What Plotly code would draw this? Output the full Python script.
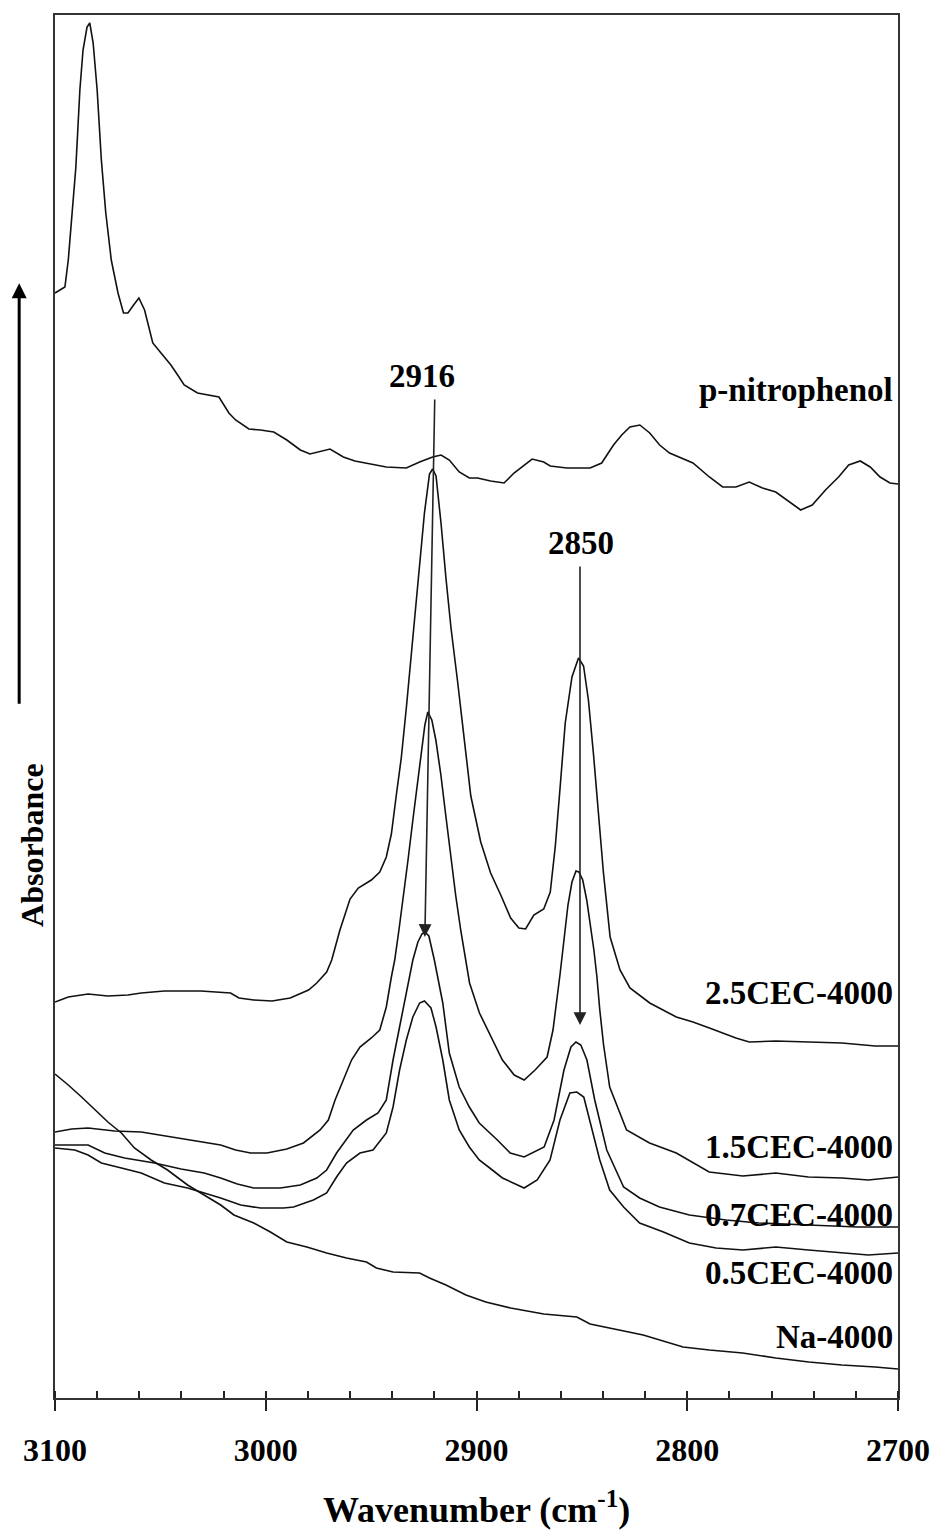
import plotly.graph_objects as go

# ---------------- data (wavenumber cm-1, absorbance a.u.) ----------------
pnp_w = [3100, 3095.3, 3093.7, 3092.1, 3090.1, 3088.2, 3086.7, 3084.8, 3083.5, 3081.9, 3080.0, 3078.0,
         3075.9, 3073.3, 3070.1, 3067.5, 3065.4, 3062.7, 3060.2, 3057.5, 3055.2, 3053.6, 3049.7, 3045.0,
         3041.8, 3038.7, 3032.4, 3022.2, 3017.5, 3014.3, 3008.0, 3002.5, 2996.2, 2990.0, 2983.6, 2979.0,
         2969.5, 2963.2, 2957.7, 2950.6, 2942.8, 2933.3, 2927.0, 2920.8, 2916.8, 2912.9, 2908.2, 2903.4,
         2899.5, 2893.3, 2886.9, 2882.2, 2873.6, 2868.1, 2865.0, 2857.1, 2846.1, 2840.6, 2835.0, 2831.1,
         2827.2, 2822.5, 2817.8, 2813.1, 2808.4, 2797.3, 2789.5, 2783.2, 2776.9, 2770.6, 2764.3, 2758.0,
         2751.7, 2746.2, 2740.7, 2734.4, 2728.2, 2723.4, 2717.9, 2713.2, 2708.5, 2703.8, 2700.0]
pnp_a = [1.105, 1.111, 1.138, 1.181, 1.231, 1.308, 1.348, 1.371, 1.375, 1.355, 1.308, 1.238,
         1.185, 1.138, 1.105, 1.085, 1.085, 1.093, 1.100, 1.088, 1.070, 1.055, 1.045, 1.033,
         1.023, 1.013, 1.005, 1.001, 0.985, 0.978, 0.969, 0.968, 0.966, 0.958, 0.948, 0.944,
         0.949, 0.941, 0.937, 0.934, 0.931, 0.930, 0.936, 0.941, 0.943, 0.938, 0.926, 0.920,
         0.920, 0.917, 0.915, 0.925, 0.939, 0.936, 0.932, 0.930, 0.930, 0.935, 0.953, 0.963,
         0.971, 0.973, 0.965, 0.953, 0.945, 0.935, 0.921, 0.911, 0.911, 0.916, 0.910, 0.906,
         0.896, 0.888, 0.893, 0.908, 0.921, 0.933, 0.937, 0.931, 0.921, 0.915, 0.914]

cec25_w = [3100, 3093.7, 3084.3, 3074.9, 3065.4, 3059.1, 3048.1, 3030.8, 3016.7, 3012.7, 3005.7, 2997.0,
           2988.4, 2979.7, 2975.8, 2971.1, 2968.7, 2964.8, 2960.0, 2956.1, 2949.9, 2945.9, 2942.8, 2940.4,
           2938.1, 2935.7, 2933.3, 2931.0, 2927.8, 2924.7, 2922.3, 2920.8, 2919.2, 2916.8, 2914.5, 2912.1,
           2909.0, 2905.8, 2902.7, 2898.0, 2893.3, 2888.5, 2883.8, 2879.9, 2876.7, 2872.8, 2868.1, 2865.0,
           2862.6, 2860.2, 2857.9, 2854.7, 2851.6, 2849.2, 2846.9, 2844.5, 2842.1, 2839.8, 2836.6, 2831.9,
           2827.2, 2817.8, 2805.2, 2797.3, 2789.5, 2776.9, 2770.6, 2758.0, 2742.3, 2726.6, 2710.8, 2700.0]
cec25_a = [0.396, 0.401, 0.404, 0.402, 0.403, 0.405, 0.407, 0.407, 0.405, 0.400, 0.398, 0.397,
           0.400, 0.408, 0.415, 0.426, 0.438, 0.468, 0.499, 0.510, 0.518, 0.526, 0.541, 0.564,
           0.602, 0.640, 0.690, 0.744, 0.813, 0.885, 0.924, 0.929, 0.922, 0.874, 0.820, 0.770,
           0.717, 0.656, 0.602, 0.556, 0.525, 0.503, 0.480, 0.470, 0.469, 0.483, 0.489, 0.506,
           0.552, 0.614, 0.675, 0.721, 0.740, 0.732, 0.698, 0.644, 0.583, 0.526, 0.461, 0.428,
           0.410, 0.395, 0.381, 0.376, 0.370, 0.360, 0.356, 0.357, 0.356, 0.355, 0.352, 0.352]

cec15_w = [3100, 3092.1, 3084.3, 3071.7, 3059.1, 3048.1, 3032.4, 3021.4, 3014.3, 3007.2, 2999.4, 2990.0,
           2982.1, 2974.2, 2970.3, 2967.1, 2963.2, 2959.3, 2955.3, 2949.9, 2945.9, 2942.8, 2940.4, 2938.8,
           2936.8, 2934.9, 2932.5, 2930.2, 2927.8, 2925.9, 2924.5, 2923.1, 2921.2, 2919.3, 2916.9, 2914.6,
           2912.3, 2909.9, 2907.5, 2905.2, 2903.3, 2898.6, 2893.9, 2887.7, 2882.1, 2877.4, 2872.2, 2866.5,
           2863.7, 2861.8, 2860.4, 2858.5, 2856.6, 2854.7, 2852.8, 2851.4, 2849.6, 2847.7, 2846.2, 2844.3,
           2842.9, 2841.5, 2839.7, 2836.8, 2828.8, 2817.9, 2805.2, 2789.6, 2773.6, 2758.0, 2742.5, 2726.5,
           2714.1, 2700.0]
cec15_a = [0.266, 0.269, 0.270, 0.267, 0.266, 0.262, 0.257, 0.253, 0.248, 0.245, 0.245, 0.249,
           0.255, 0.268, 0.278, 0.298, 0.318, 0.338, 0.351, 0.360, 0.368, 0.391, 0.421, 0.438,
           0.468, 0.498, 0.538, 0.578, 0.618, 0.653, 0.673, 0.686, 0.678, 0.658, 0.623, 0.583,
           0.543, 0.503, 0.468, 0.438, 0.415, 0.385, 0.365, 0.338, 0.323, 0.318, 0.328, 0.341,
           0.368, 0.398, 0.423, 0.458, 0.493, 0.516, 0.527, 0.526, 0.518, 0.498, 0.478, 0.448,
           0.422, 0.388, 0.353, 0.311, 0.268, 0.255, 0.245, 0.226, 0.222, 0.225, 0.221, 0.220,
           0.218, 0.221]

cec07_w = [3100, 3084.3, 3076.4, 3067.0, 3052.8, 3040.2, 3029.2, 3021.4, 3013.5, 3005.7, 2993.1, 2983.6,
           2975.8, 2971.1, 2966.4, 2961.7, 2958.5, 2952.2, 2946.7, 2942.8, 2939.6, 2936.5, 2933.3, 2930.2,
           2927.8, 2925.9, 2924.5, 2922.6, 2920.0, 2916.0, 2912.9, 2908.2, 2903.4, 2898.7, 2890.1, 2884.0,
           2877.4, 2867.9, 2863.2, 2858.5, 2855.2, 2852.8, 2850.5, 2847.6, 2843.9, 2838.2, 2830.2, 2822.6,
           2813.2, 2799.0, 2781.6, 2766.0, 2742.5, 2718.9, 2700.0]
cec07_a = [0.253, 0.253, 0.245, 0.240, 0.235, 0.229, 0.225, 0.220, 0.214, 0.210, 0.210, 0.213,
           0.220, 0.228, 0.245, 0.258, 0.268, 0.278, 0.285, 0.298, 0.338, 0.371, 0.405, 0.438,
           0.456, 0.464, 0.466, 0.462, 0.438, 0.395, 0.345, 0.311, 0.291, 0.275, 0.258, 0.245,
           0.241, 0.251, 0.278, 0.328, 0.351, 0.356, 0.353, 0.338, 0.298, 0.248, 0.211, 0.200,
           0.191, 0.183, 0.178, 0.175, 0.173, 0.171, 0.171]

cec05_w = [3100, 3090.6, 3084.3, 3078.0, 3068.5, 3059.1, 3048.1, 3037.1, 3029.2, 3021.4, 3011.9, 3002.5,
           2991.5, 2986.8, 2977.4, 2971.1, 2966.4, 2961.7, 2955.3, 2949.1, 2942.8, 2939.6, 2936.5, 2933.3,
           2930.2, 2927.0, 2924.7, 2921.6, 2919.2, 2916.0, 2912.9, 2908.2, 2903.4, 2898.7, 2892.5, 2887.7,
           2877.4, 2871.2, 2865.1, 2860.4, 2855.7, 2852.4, 2849.1, 2846.2, 2841.5, 2836.8, 2830.2, 2822.6,
           2811.3, 2799.0, 2786.3, 2773.6, 2758.0, 2742.5, 2726.5, 2714.1, 2700.0]
cec05_a = [0.250, 0.248, 0.243, 0.235, 0.230, 0.225, 0.215, 0.210, 0.205, 0.200, 0.193, 0.190,
           0.190, 0.191, 0.198, 0.205, 0.221, 0.235, 0.245, 0.248, 0.265, 0.291, 0.328, 0.358,
           0.381, 0.395, 0.397, 0.390, 0.371, 0.338, 0.298, 0.268, 0.251, 0.238, 0.228, 0.220,
           0.210, 0.218, 0.238, 0.278, 0.305, 0.306, 0.301, 0.278, 0.238, 0.208, 0.191, 0.175,
           0.166, 0.155, 0.150, 0.148, 0.151, 0.148, 0.145, 0.143, 0.145]

na_w = [3100, 3093.7, 3087.4, 3079.6, 3074.9, 3068.5, 3062.3, 3054.4, 3046.6, 3037.1, 3029.2, 3021.4,
        3015.1, 3005.7, 2997.8, 2990.0, 2980.5, 2971.1, 2961.7, 2952.2, 2947.5, 2939.6, 2927.0, 2922.3,
        2914.5, 2905.0, 2895.6, 2883.8, 2868.1, 2852.4, 2846.1, 2836.7, 2820.9, 2802.0, 2789.5, 2773.7,
        2758.0, 2742.3, 2726.6, 2710.8, 2700.0]
na_a = [0.324, 0.313, 0.301, 0.286, 0.276, 0.265, 0.250, 0.238, 0.228, 0.213, 0.203, 0.193,
        0.183, 0.175, 0.166, 0.156, 0.151, 0.145, 0.140, 0.136, 0.130, 0.126, 0.125, 0.120,
        0.113, 0.103, 0.096, 0.090, 0.084, 0.081, 0.074, 0.070, 0.063, 0.051, 0.048, 0.045,
        0.040, 0.036, 0.033, 0.031, 0.029]

series = [
    ("p-nitrophenol", pnp_w, pnp_a),
    ("2.5CEC-4000", cec25_w, cec25_a),
    ("1.5CEC-4000", cec15_w, cec15_a),
    ("0.7CEC-4000", cec07_w, cec07_a),
    ("0.5CEC-4000", cec05_w, cec05_a),
    ("Na-4000", na_w, na_a),
]

# curve labels: (text, y position of label in absorbance units)
label_names = ["p-nitrophenol", "2.5CEC-4000", "1.5CEC-4000", "0.7CEC-4000", "0.5CEC-4000", "Na-4000"]
label_y = [1.008, 0.405, 0.251, 0.183, 0.125, 0.061]

# peak annotations: text, label position, arrow tail, arrow head
peak_text = ["2916", "2850"]
peak_label_w = [2925.9, 2850.5]
peak_label_a = [1.022, 0.855]
peak_tail_w = [2919.8, 2850.9]
peak_tail_a = [1.000, 0.833]
peak_head_w = [2924.5, 2850.9]
peak_head_a = [0.461, 0.373]

x_ticks = [3100, 3000, 2900, 2800, 2700]

FONT = "Liberation Serif"
INK = "#111111"

fig = go.Figure()
for name, w, a in series:
    fig.add_trace(go.Scatter(x=w, y=a, mode="lines", name=name,
                             line=dict(color=INK, width=1.6), showlegend=False,
                             hoverinfo="skip"))
# helper trace for inside major ticks axis
fig.add_trace(go.Scatter(x=[3100, 2700], y=[0, 0], xaxis="x2", mode="lines",
                         line=dict(width=0), showlegend=False, hoverinfo="skip"))

annotations = []
for t, yv in zip(label_names, label_y):
    annotations.append(dict(x=2701.5, y=yv, xref="x", yref="y", text=t, showarrow=False,
                            xanchor="right", yanchor="middle",
                            font=dict(family=FONT, size=33, color="black", weight="bold")))
for i in range(2):
    annotations.append(dict(x=peak_label_w[i], y=peak_label_a[i], xref="x", yref="y",
                            text=peak_text[i], showarrow=False, xanchor="center", yanchor="middle",
                            font=dict(family=FONT, size=33, color="black", weight="bold")))
    annotations.append(dict(x=peak_head_w[i], y=peak_head_a[i], xref="x", yref="y",
                            ax=peak_tail_w[i], ay=peak_tail_a[i], axref="x", ayref="y",
                            text="", showarrow=True, arrowhead=2, arrowsize=1.6,
                            arrowwidth=1.6, arrowcolor="#222222", standoff=0))

# x-axis title
annotations.append(dict(x=0.5, y=-0.0795, xref="paper", yref="paper",
                        text="Wavenumber (cm<sup>-1</sup>)", showarrow=False,
                        xanchor="center", yanchor="middle",
                        font=dict(family=FONT, size=36, color="black", weight="bold")))
# y-axis title
annotations.append(dict(x=-0.0271, y=0.40, xref="paper", yref="paper", text="Absorbance",
                        showarrow=False, textangle=-90, xanchor="center", yanchor="middle",
                        font=dict(family=FONT, size=32, color="black", weight="bold")))
# absorbance direction arrow
annotations.append(dict(x=-0.0425, y=0.806, xref="paper", yref="paper", ax=0, ay=422,
                        text="", showarrow=True, arrowhead=2, arrowsize=1.0, arrowwidth=3,
                        arrowcolor="black", standoff=0))

fig.update_layout(
    width=942, height=1531,
    margin=dict(l=55, r=39, t=15, b=133),
    paper_bgcolor="white", plot_bgcolor="white",
    xaxis=dict(range=[3100, 2700], tickvals=x_ticks, ticks="outside", ticklen=11,
               tickwidth=1.5, tickcolor="#222", showline=True, linewidth=2, linecolor="#333",
               mirror=True, showgrid=False, zeroline=False, ticklabelstandoff=12,
               tickfont=dict(family=FONT, size=32, color="black", weight="bold"),
               minor=dict(ticks="inside", dtick=20, ticklen=7, tickwidth=1.5, tickcolor="#222",
                          showgrid=False)),
    xaxis2=dict(range=[3100, 2700], overlaying="x", anchor="y", side="bottom",
                tickvals=x_ticks, ticks="inside", ticklen=7, tickwidth=1.5, tickcolor="#222",
                showticklabels=False, showline=False, showgrid=False, zeroline=False),
    yaxis=dict(range=[0, 1.383], showticklabels=False, ticks="", showline=True,
               linewidth=2, linecolor="#333", mirror=True, showgrid=False, zeroline=False),
    annotations=annotations,
)

fig.write_html("out.html", config={"displayModeBar": False},
               post_script="document.body.style.margin='0';document.body.style.overflow='hidden';")
